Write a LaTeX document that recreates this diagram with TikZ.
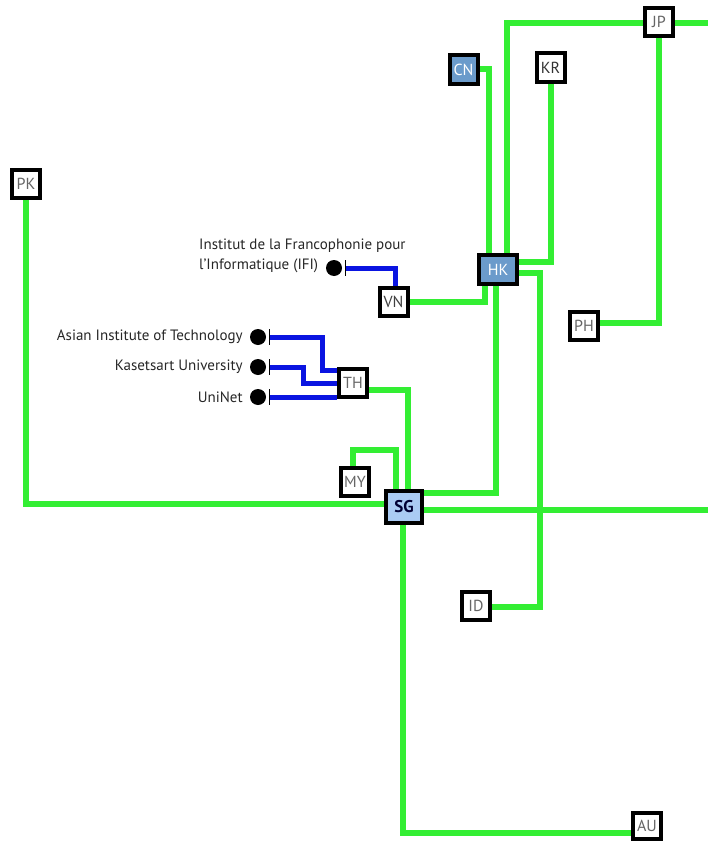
\documentclass[tikz,border=0pt]{standalone}
\usepackage{fontspec}
\setmainfont{PT Sans}
\usetikzlibrary{calc,positioning,backgrounds}
\definecolor{linkgreen}{RGB}{51,238,51}
\definecolor{linkblue}{RGB}{10,20,225}
\definecolor{hubblue}{RGB}{107,155,203}
\definecolor{sgblue}{RGB}{170,203,243}
\tikzstyle{country}=[draw=black,line width=4pt,fill=white,minimum width=28pt,minimum height=28pt,inner sep=1pt,text=black!60,font=\fontsize{16}{16}\selectfont]
\tikzstyle{hub}=[country,fill=hubblue,text=white]
\tikzstyle{dot}=[circle,fill=black,minimum size=16pt,inner sep=0pt]
\tikzstyle{uni}=[inner sep=0pt,text=black!85,font=\fontsize{15}{20}\selectfont]
\tikzstyle{green link}=[draw=linkgreen,line width=6pt]
\tikzstyle{blue link}=[draw=linkblue,line width=5pt]

\begin{document}
\begin{tikzpicture}[x=1pt,y=-1pt]
	\useasboundingbox (0,0) rectangle (707,843);
	% country boxes
	\node[country] (JP) at (659,22) {JP};
	\node[hub] (CN) at (463.5,69.5) {CN};
	\node[country,text=black!80] (KR) at (550.5,67.5) {KR};
	\node[country] (PK) at (26,184) {PK};
	\node[hub,minimum width=38pt,minimum height=29pt] (HK) at (498,269.5) {HK};
	\node[country,text=black!75] (VN) at (393.5,302) {VN};
	\node[country] (PH) at (584,326) {PH};
	\node[country] (TH) at (353,382.5) {TH};
	\node[country] (MY) at (355,481.5) {MY};
	\node[country,fill=sgblue,text=black!80!blue,minimum width=36pt,minimum height=32pt,font=\fontsize{17}{17}\selectfont\bfseries] (SG) at (404,507) {SG};
	\node[country] (ID) at (476,605.5) {ID};
	\node[country,minimum height=26pt] (AU) at (647,826) {AU};
	\coordinate (edgeJP) at (710,23);
	\coordinate (edgeSG) at (710,510);

	% universities
	\node[dot] (IFI) at (334,268) {};
	\node[uni,align=left,anchor=north west] (IFIlabel) at (199,239) {Institut de la Francophonie pour\\l'Informatique (IFI)};
	\node[dot] (AIT) at (258,337) {};
	\node[uni,left=7pt of AIT] (AITlabel) {Asian Institute of Technology};
	\node[dot] (KU) at (258,367) {};
	\node[uni,left=7pt of KU] (KUlabel) {Kasetsart University};
	\node[dot] (UNI) at (258,397) {};
	\node[uni,left=7pt of UNI] (UNIlabel) {UniNet};
	\foreach \u in {IFI,AIT,KU,UNI}{
		\draw[thin] ($(\u)+(11,-8)$) -- ++(0,16);
	}

	\begin{scope}[on background layer]
	% blue links
	\draw[blue link] ($(IFI)+(11,0)$) -| ([xshift=2pt]VN.north);
	\draw[blue link] ($(AIT)+(11,0)$) -| ($(TH.west)+(-15,-12.5)$) -- ($(TH.west)+(0,-12.5)$);
	\draw[blue link] ($(KU)+(11,0)$) -| ($(TH.west)+(-34,0.5)$) -- ($(TH.west)+(0,0.5)$);
	\draw[blue link] ($(UNI)+(11,0)$) -- (TH.south west |- UNI);
	% green links
	\draw[green link] ($(TH.east)+(0,7.5)$) -| ([xshift=4pt]SG.north);
	\draw[green link] ([xshift=-2pt]MY.north) -- ++(0,-16) -| ([xshift=-8pt]SG.north);
	\draw[green link] ([xshift=-2pt]HK.south) |- ([yshift=14pt]SG.east);
	\draw[green link] ([yshift=-3pt]SG.east) -- (edgeSG);
	\draw[green link] (PK.south) |- ([yshift=3pt]SG.west);
	\draw[green link] ([xshift=-1pt]SG.south) |- ([yshift=-7pt]AU.west);
	\draw[green link] ([yshift=-3.5pt]HK.east) -| ($(ID.east)+(48,1.5)$) -- ($(ID.east)+(0,1.5)$);
	\draw[green link] ([yshift=8pt]HK.east) -| (KR.south);
	\draw[green link] (CN.east) -| ([xshift=-9pt]HK.north);
	\draw[green link] ([xshift=9pt]HK.north) |- ([yshift=-1pt]JP.west);
	\draw[green link] ([yshift=-1pt]JP.east) -- (edgeJP);
	\draw[green link] (JP.south) |- ([yshift=3pt]PH.east);
	\draw[green link] (VN.east) -| ([xshift=-13pt]HK.south);
	\end{scope}
\end{tikzpicture}
\end{document}
